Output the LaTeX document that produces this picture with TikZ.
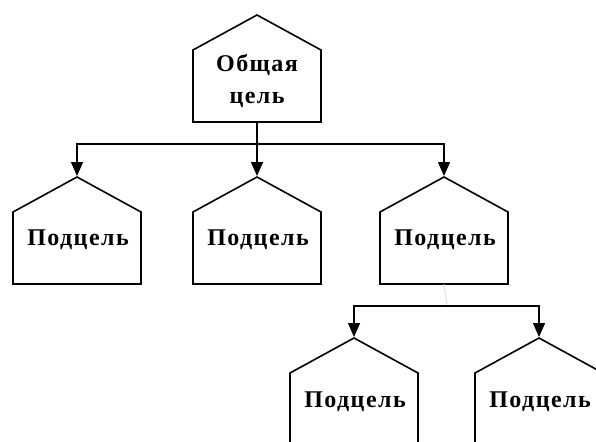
\documentclass[tikz,border=0pt]{standalone}
\usepackage{fontspec}
\setmainfont{Liberation Serif}
\newfontfamily\lblfont[LetterSpace=6]{Liberation Serif}
\usetikzlibrary{arrows.meta}
\begin{document}
\begin{tikzpicture}[x=1pt,y=-1pt,
  houseline/.style={line width=1.6pt, line join=miter},
  link/.style={line width=1.4pt, -{Triangle[width=12pt,length=14pt]}, shorten >=1pt},
  plainlink/.style={line width=1.4pt},
  faintlink/.style={line width=0.8pt, black!15},
  lbl/.style={font=\lblfont\bfseries\fontsize{24}{32}\selectfont, inner sep=0pt, align=center},
  house/.pic={
    \draw[houseline] (-64,35) -- (0,0) -- (64,35) -- (64,107) -- (-64,107) -- cycle;
    \coordinate (-apex) at (0,0);
    \coordinate (-bot) at (0,107);
  }]
\useasboundingbox (0,0) rectangle (596,441);
% boxes
\pic (top) at (257,15) {house};
\pic (b1) at (77,177) {house};
\pic (b2) at (257,177) {house};
\pic (b3) at (444,177) {house};
\pic (b4) at (354,338) {house};
\pic (b5) at (539,338) {house};
% labels
\node[lbl] (ttop) at (257,81) {Общая\\цель};
\node[lbl] (t1) at (78,240) {Подцель};
\node[lbl] (t2) at (258,240) {Подцель};
\node[lbl] (t3) at (445,240) {Подцель};
\node[lbl] (t4) at (355,402) {Подцель};
\node[lbl] (t5) at (540,402) {Подцель};
% connectors
\coordinate (j1) at (257,144);
\draw[plainlink] (top-bot) -- (j1);
\draw[link] (j1) -| (b1-apex);
\draw[link] (j1) -- (b2-apex);
\draw[link] (j1) -| (b3-apex);
\coordinate (j2) at (447,306);
\draw[faintlink] (b3-bot) -- (j2);
\draw[link] (j2) -| (b4-apex);
\draw[link] (j2) -| (b5-apex);
\end{tikzpicture}
\end{document}
